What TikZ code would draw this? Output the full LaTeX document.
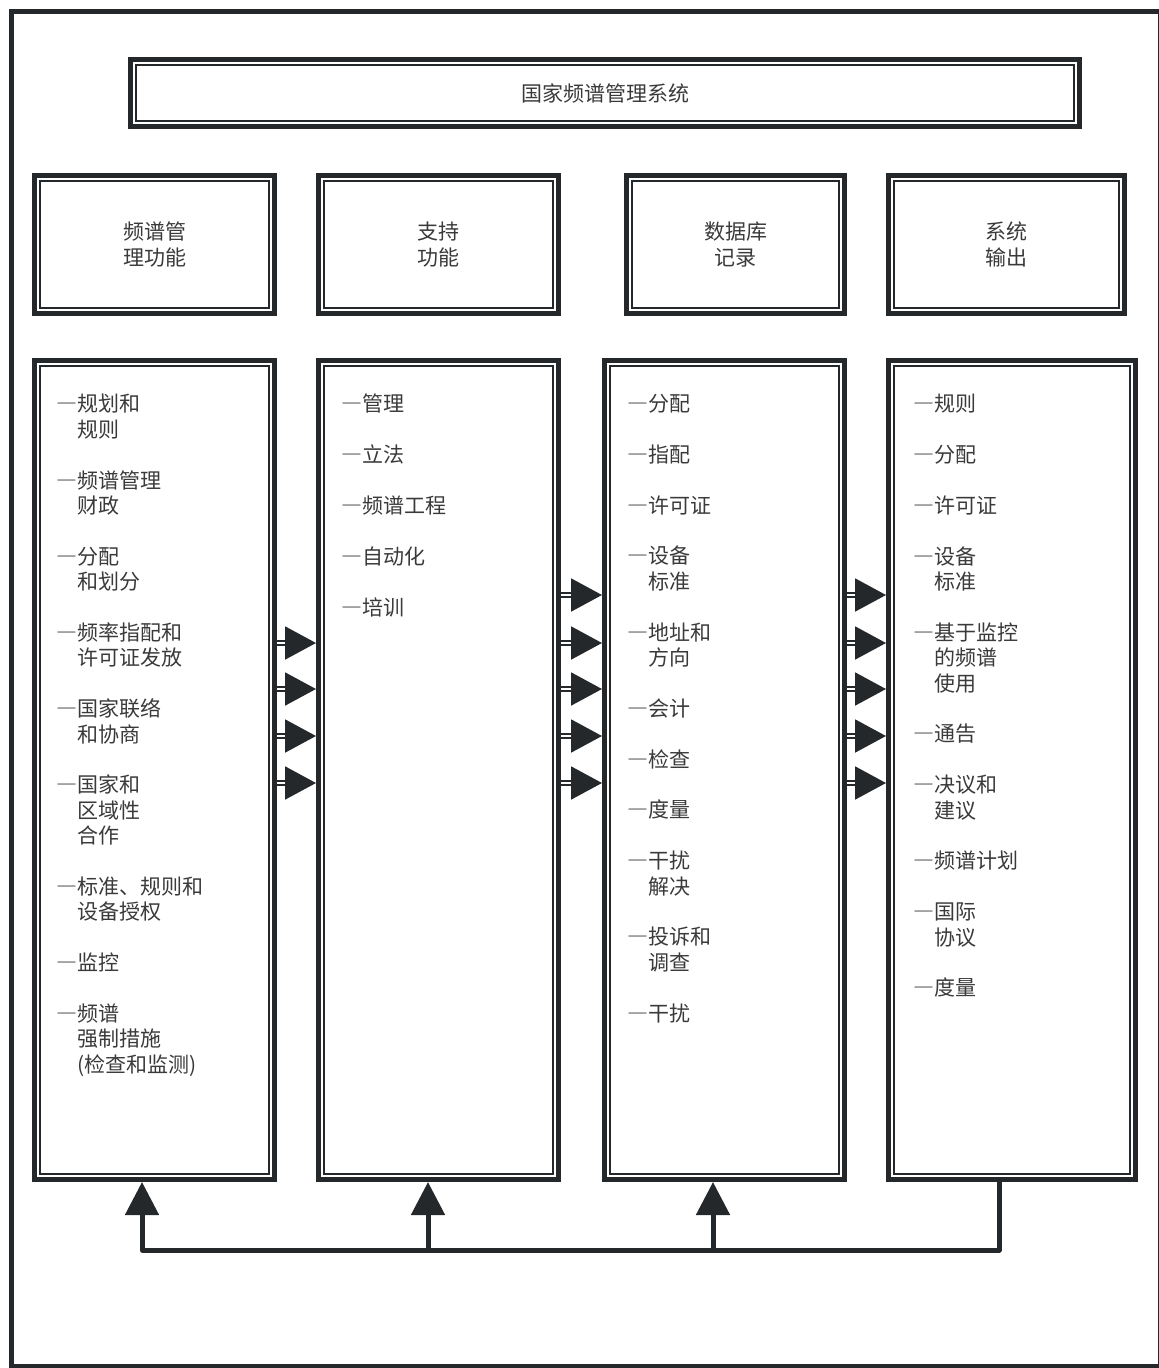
\documentclass[tikz,border=0pt]{standalone}
\usepackage{fontspec}
\setmainfont{Noto Sans CJK SC}
\usetikzlibrary{arrows.meta,calc,positioning}
\definecolor{ink}{HTML}{25282B}
\definecolor{txt}{HTML}{3A3A3A}
\newcommand\idash{{\addfontfeatures{RawFeature=+fwid}—}}
\newcommand\dashin{\hphantom{\idash}}

\begin{document}
\begin{tikzpicture}[x=1pt, y=-1pt,
  every node/.style={font=\fontsize{21pt}{25.4pt}\selectfont, text=txt},
  dbox/.style={draw=ink, line width=5pt, inner sep=0pt, align=center,
    path picture={\draw[ink, line width=2.4pt]
      ([shift={(5.7pt,5.7pt)}]path picture bounding box.south west) rectangle
      ([shift={(-5.7pt,-5.7pt)}]path picture bounding box.north east);}},
  list/.style={anchor=north west, align=left, inner sep=0pt},
  flow/.style={draw=ink, line width=2pt, double=white, double distance=2.5pt,
    -{Triangle[length=31pt, width=33pt]}},
  back/.style={draw=ink, line width=5pt, line join=round,
    -{Triangle[length=33pt, width=33pt]}}]
  \useasboundingbox (0,0) rectangle (1159,1368);
  \draw[ink, line width=5pt] (11,11) rectangle (1160,1366);

  \node[dbox, minimum width=949pt, minimum height=67pt] (sys) at (605,93) {国家频谱管理系统};

  \node[dbox, minimum width=240pt, minimum height=138pt] (func) at (154.5,244.5) {频谱管\\理功能};
  \node[dbox, minimum width=240pt, minimum height=138pt] (supp) at (438.5,244.5) {支持\\功能};
  \node[dbox, minimum width=218pt, minimum height=138pt] (recs) at (735.5,244.5) {数据库\\记录};
  \node[dbox, minimum width=236pt, minimum height=138pt] (outp) at (1006.5,244.5) {系统\\输出};

  \node[dbox, minimum width=240pt, minimum height=819pt] (l1) at (154.5,770) {};
  \node[dbox, minimum width=240pt, minimum height=819pt] (l2) at (438.5,770) {};
  \node[dbox, minimum width=240pt, minimum height=819pt] (l3) at (724.5,770) {};
  \node[dbox, minimum width=247pt, minimum height=819pt] (l4) at (1012,770) {};

  \node[list] (funct) at (56,394) {\idash 规划和\\ \dashin 规则\\[25.4pt]
    \idash 频谱管理\\ \dashin 财政\\[25.4pt]
    \idash 分配\\ \dashin 和划分\\[25.4pt]
    \idash 频率指配和\\ \dashin 许可证发放\\[25.4pt]
    \idash 国家联络\\ \dashin 和协商\\[25.4pt]
    \idash 国家和\\ \dashin 区域性\\ \dashin 合作\\[25.4pt]
    \idash 标准、规则和\\ \dashin 设备授权\\[25.4pt]
    \idash 监控\\[25.4pt]
    \idash 频谱\\ \dashin 强制措施\\ \dashin (检查和监测)};
  \node[list] (suppt) at (341,394) {\idash 管理\\[25.4pt] \idash 立法\\[25.4pt] \idash 频谱工程\\[25.4pt]
    \idash 自动化\\[25.4pt] \idash 培训};
  \node[list] (recst) at (627,394) {\idash 分配\\[25.4pt] \idash 指配\\[25.4pt] \idash 许可证\\[25.4pt]
    \idash 设备\\ \dashin 标准\\[25.4pt]
    \idash 地址和\\ \dashin 方向\\[25.4pt]
    \idash 会计\\[25.4pt] \idash 检查\\[25.4pt] \idash 度量\\[25.4pt]
    \idash 干扰\\ \dashin 解决\\[25.4pt]
    \idash 投诉和\\ \dashin 调查\\[25.4pt]
    \idash 干扰};
  \node[list] (outpt) at (913,394) {\idash 规则\\[25.4pt] \idash 分配\\[25.4pt] \idash 许可证\\[25.4pt]
    \idash 设备\\ \dashin 标准\\[25.4pt]
    \idash 基于监控\\ \dashin 的频谱\\ \dashin 使用\\[25.4pt]
    \idash 通告\\[25.4pt]
    \idash 决议和\\ \dashin 建议\\[25.4pt]
    \idash 频谱计划\\[25.4pt]
    \idash 国际\\ \dashin 协议\\[25.4pt]
    \idash 度量};

  \foreach \y in {643,689,736,783}
    \draw[flow] (l1.east |- 0,\y) -- (l2.west |- 0,\y);
  \foreach \y in {595,643,689,736,783} {
    \draw[flow] (l2.east |- 0,\y) -- (l3.west |- 0,\y);
    \draw[flow] (l3.east |- 0,\y) -- (l4.west |- 0,\y);
  }

  \coordinate (b1) at (142,1250);
  \coordinate (b2) at (428,1250);
  \coordinate (b3) at (713,1250);
  \coordinate (b4) at (999,1250);
  \draw[back] (l4.south -| b4) -- (b4) -- (b1) -- (b1 |- l1.south);
  \draw[back] (b2) -- (b2 |- l2.south);
  \draw[back] (b3) -- (b3 |- l3.south);
\end{tikzpicture}
\end{document}
